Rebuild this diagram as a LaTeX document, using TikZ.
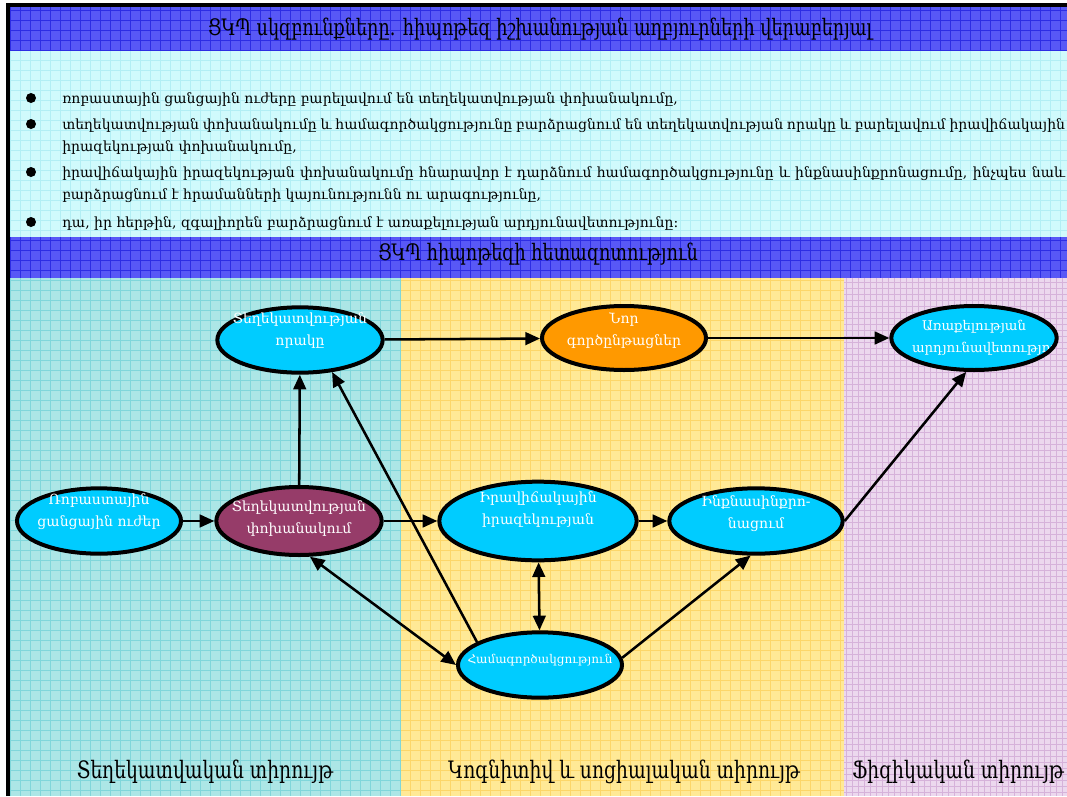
\documentclass[tikz,border=0pt]{standalone}
\usepackage{fontspec}
\setmainfont{DejaVu Serif}
\newfontfamily\narrowfont[FakeStretch=0.78]{DejaVu Serif}
\usetikzlibrary{shapes.geometric,arrows.meta}

\definecolor{barblue}{RGB}{88,88,246}
\definecolor{bargrid}{RGB}{45,45,228}
\definecolor{notefill}{RGB}{208,250,252}
\definecolor{notegrid}{RGB}{178,238,244}
\definecolor{infofill}{RGB}{172,230,230}
\definecolor{infogrid}{RGB}{128,214,218}
\definecolor{cogfill}{RGB}{255,233,150}
\definecolor{coggrid}{RGB}{252,214,105}
\definecolor{physfill}{RGB}{236,216,238}
\definecolor{physgrid}{RGB}{214,178,218}
\definecolor{skyfill}{RGB}{0,204,255}
\definecolor{orangefill}{RGB}{255,153,0}
\definecolor{plumfill}{RGB}{150,60,105}

\begin{document}
\begin{tikzpicture}[x=0.75pt,y=0.75pt,yscale=-1,xscale=1,
  >={Triangle[length=11pt,width=9.5pt]},
  blob/.style={ellipse, draw=black, line width=3pt, fill=skyfill, minimum width=124pt, minimum height=49pt, inner sep=0pt},
  blobtext/.style={text=white, align=center, inner sep=0pt, font=\fontsize{10.5}{16.5}\selectfont},
  link/.style={line width=1.9pt},
  dot/.style={circle, fill=black, minimum size=7.5pt, inner sep=0pt},
  note/.style={anchor=north west, inner sep=0pt, text width=752pt, align=justify, font=\fontsize{10.5}{17}\selectfont},
  banner/.style={inner sep=0pt, font=\narrowfont\fontsize{17}{20}\selectfont},
  zone/.style={inner sep=0pt, font=\narrowfont\fontsize{18}{22}\selectfont},
  patch/.style={line width=0.3pt, step=7.5pt}
]
\useasboundingbox (0,0) rectangle (1067,796);

% Backgrounds
\fill[barblue] (9,6) rectangle (1067,51);
\draw[patch, bargrid] (9,6) grid (1067,51);
\fill[notefill] (9,51) rectangle (1067,237);
\draw[patch, notegrid] (9,51) grid (1067,237);
\fill[barblue] (9,237) rectangle (1067,278);
\draw[patch, bargrid] (9,237) grid (1067,278);
\fill[infofill] (9,278) rectangle (401,796);
\draw[patch, infogrid] (9,278) grid (401,796);
\fill[cogfill] (401,278) rectangle (844,796);
\draw[patch, coggrid] (401,278) grid (844,796);
\fill[physfill] (844,278) rectangle (1067,796);
\draw[patch, physgrid, line width=0.25pt, step=4.5pt] (844,278) grid (1067,796);

% Frame
\draw[line width=2.5pt] (8,796) -- (8,5) -- (1067,5);

% Headings
\node[banner] (title) at (540,29) {ՑԿՊ սկզբունքները. հիպոթեզ իշխանության աղբյուրների վերաբերյալ};
\node[banner] (study) at (538,254) {ՑԿՊ հիպոթեզի հետազոտություն};

% Bullets
\node[dot] (d1) at (31,98) {};
\node[dot] (d2) at (31,124) {};
\node[dot] (d3) at (31,172) {};
\node[dot] (d4) at (31,222) {};
\node[note] (b1) at (62,92) {ռոբաստային ցանցային ուժերը բարելավում են տեղեկատվության փոխանակումը,};
\node[note] (b2) at (62,118) {տեղեկատվության փոխանակումը և համագործակցությունը բարձրացնում են տեղեկատվության որակը և բարելավում իրավիճակային\linebreak իրազեկության փոխանակումը,};
\node[note] (b3) at (62,166) {իրավիճակային իրազեկության փոխանակումը հնարավոր է դարձնում համագործակցությունը և ինքնասինքրոնացումը, ինչպես նաև\linebreak բարձրացնում է հրամանների կայունությունն ու արագությունը,};
\node[note] (b4) at (62,216) {դա, իր հերթին, զգալիորեն բարձրացնում է առաքելության արդյունավետությունը:};

% Ellipses
\node[blob] (tq) at (300,340) {};
\node[blob, fill=orangefill, minimum width=123pt, minimum height=48pt] (nor) at (624,338) {};
\node[blob, minimum height=48pt, path picture={\node[blobtext, font=\fontsize{10}{16.5}\selectfont] (arrtext) at (path picture bounding box.center) {Առաքելության\\\hspace*{22pt}արդյունավետություն};}] (arr) at (974,338) {};
\node[blob, minimum width=123pt] (rob) at (99,521) {};
\node[blob, fill=plumfill, minimum height=51pt] (tp) at (299,521) {};
\node[blob, minimum width=148pt, minimum height=59pt] (irav) at (538,521) {};
\node[blob, minimum width=130pt] (inkn) at (756,521) {};
\node[blob, minimum width=123pt] (ham) at (540,665) {};

% Ellipse texts
\node[blobtext] (tqtext) at (300,331) {Տեղեկատվության\\որակը};
\node[blobtext] (nortext) at (624,331) {Նոր\\գործընթացներ};
\node[blobtext] (robtext) at (99,512) {Ռոբաստային\\ցանցային ուժեր};
\node[blobtext] (tptext) at (299,519) {Տեղեկատվության\\փոխանակում};
\node[blobtext] (iravtext) at (538,510) {Իրավիճակային\\իրազեկության};
\node[blobtext] (inkntext) at (756,514) {Ինքնասինքրո-\\նացում};
\node[blobtext, font=\fontsize{9}{12}\selectfont] (hamtext) at (540,660) {Համագործակցություն};

% Connectors
\draw[link,->] (tq) -- (nor);
\draw[link,->] (nor) -- (arr);
\draw[link,->] (rob) -- (tp);
\draw[link,->] (tp) -- (tq);
\draw[link,->] (tp) -- (irav);
\draw[link,->] (irav) -- (inkn);
\draw[link,<->] (irav) -- (ham);
\draw[link,<->] (tp.287) -- (ham.west);
\draw[link,->] (ham.160) -- (tq.315);
\draw[link,->] (ham.5) -- (inkn.261);
\draw[link,->] (inkn.east) -- (arr.257);

% Domains
\node[zone] (infozone) at (205,772) {Տեղեկատվական տիրույթ};
\node[zone] (cogzone) at (624,772) {Կոգնիտիվ և սոցիալական տիրույթ};
\node[zone] (physzone) at (958,772) {Ֆիզիկական տիրույթ};

\end{tikzpicture}
\end{document}
